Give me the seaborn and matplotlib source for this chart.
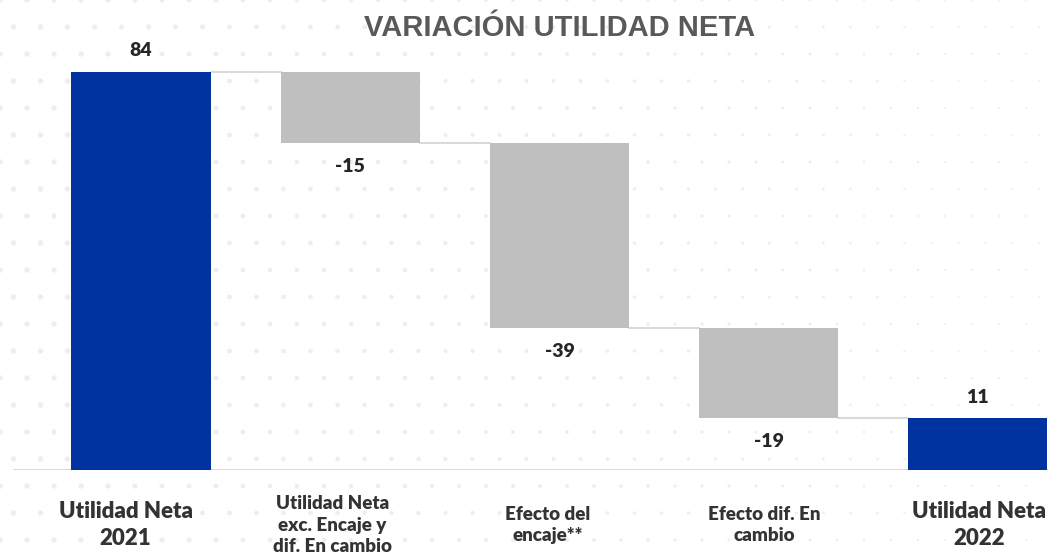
import numpy as np
import pandas as pd
import matplotlib
matplotlib.use("Agg")
import matplotlib.pyplot as plt
import matplotlib.transforms as mtransforms
import seaborn as sns

categories = ["Utilidad Neta\n2021", "Utilidad Neta\nexc. Encaje y\ndif. En cambio",
              "Efecto del\nencaje**", "Efecto dif. En\ncambio", "Utilidad Neta\n2022"]
values = [84, -15, -39, -19, 11]
is_total = [True, False, False, False, True]
value_labels = ["84", "-15", "-39", "-19", "11"]
title = "VARIACIÓN UTILIDAD NETA"

BLUE = "#0033A0"
GREY = "#BFBFBF"
TEXT = "#262626"

bottoms, heights, running = [], [], 0
for v, tot in zip(values, is_total):
    if tot:
        bottoms.append(0); heights.append(v); running = v
    else:
        new = running + v
        bottoms.append(min(running, new)); heights.append(abs(v)); running = new
df = pd.DataFrame({"cat": categories, "h": heights, "b": bottoms})

sns.set_theme(style="white")
plt.rcParams["font.family"] = ["Lato", "DejaVu Sans"]

fig = plt.figure(figsize=(10.48, 5.56), dpi=100)
fig.patch.set_facecolor("white")

# faint dotted background decoration
bg = fig.add_axes([0, 0, 1, 1], zorder=0)
bg.set_xlim(0, 1048); bg.set_ylim(556, 0); bg.axis("off")
gx, gy = np.meshgrid(np.arange(0, 1060, 27), np.arange(0, 570, 27))
gx = gx + (np.arange(gy.shape[0])[:, None] % 2) * 13.5
sizes = 16 * np.clip(1 - gx / 1100, 0.15, 1)
bg.scatter(gx.ravel(), gy.ravel(), s=sizes.ravel(), color="#eeeeee", lw=0)

ax = fig.add_axes([13 / 1048, (556 - 470) / 556, (1048 - 13) / 1048, 440 / 556], zorder=1)
ax.patch.set_alpha(0)
sns.barplot(data=df, x="cat", y="h", bottom=df["b"].values, color=GREY,
            width=0.665, errorbar=None, ax=ax, saturation=1)
for p, tot in zip(ax.patches, is_total):
    p.set_facecolor(BLUE if tot else GREY)
    p.set_edgecolor("none")

ax.set_xlim(-0.612, 4.335)
ax.set_ylim(0, 92.8)
for s in ax.spines.values():
    s.set_visible(False)
ax.set_xticks([]); ax.set_yticks([])
ax.set_xlabel(""); ax.set_ylabel("")
ax.axhline(0, color="#d9d9d9", lw=1.5, zorder=0.5)

# connectors
running = 0
w = 0.665
for i, (v, tot) in enumerate(zip(values, is_total)):
    running = v if tot else running + v
    if i < len(values) - 1:
        ax.plot([i + w / 2, i + 1 - w / 2], [running, running], color="#d9d9d9", lw=1.5, zorder=0.5)

# value labels
for i, (v, b, h) in enumerate(zip(values, bottoms, heights)):
    if v >= 0:
        ax.annotate(value_labels[i], (i, b + h), xytext=(0, 15), textcoords="offset points",
                    ha="center", va="center", fontsize=14, fontweight="heavy", color=TEXT)
    else:
        ax.annotate(value_labels[i], (i, b), xytext=(0, -17), textcoords="offset points",
                    ha="center", va="center", fontsize=14, fontweight="heavy", color=TEXT)

# category labels (slight horizontal offsets as in the reference layout)
label_dx_px = [-15.5, -18, -12, -4, 1]
trans = mtransforms.blended_transform_factory(ax.transData, fig.transFigure)
for i, (c, tot) in enumerate(zip(categories, is_total)):
    off = mtransforms.offset_copy(trans, fig=fig, x=label_dx_px[i] * 0.72, units="points")
    ax.text(i, 1 - 525 / 556, c, transform=off, ha="center", va="center",
            fontsize=16 if tot else 13.5, fontweight="heavy", color="#333333",
            linespacing=1.3 if tot else 1.33, multialignment="center")

fig.text(560 / 1048, 1 - 28 / 556, title, ha="center", va="center", fontsize=21,
         fontweight="bold", color="#595959", family=["Liberation Sans", "DejaVu Sans"])

fig.savefig("out.png", dpi=100, facecolor="white")
